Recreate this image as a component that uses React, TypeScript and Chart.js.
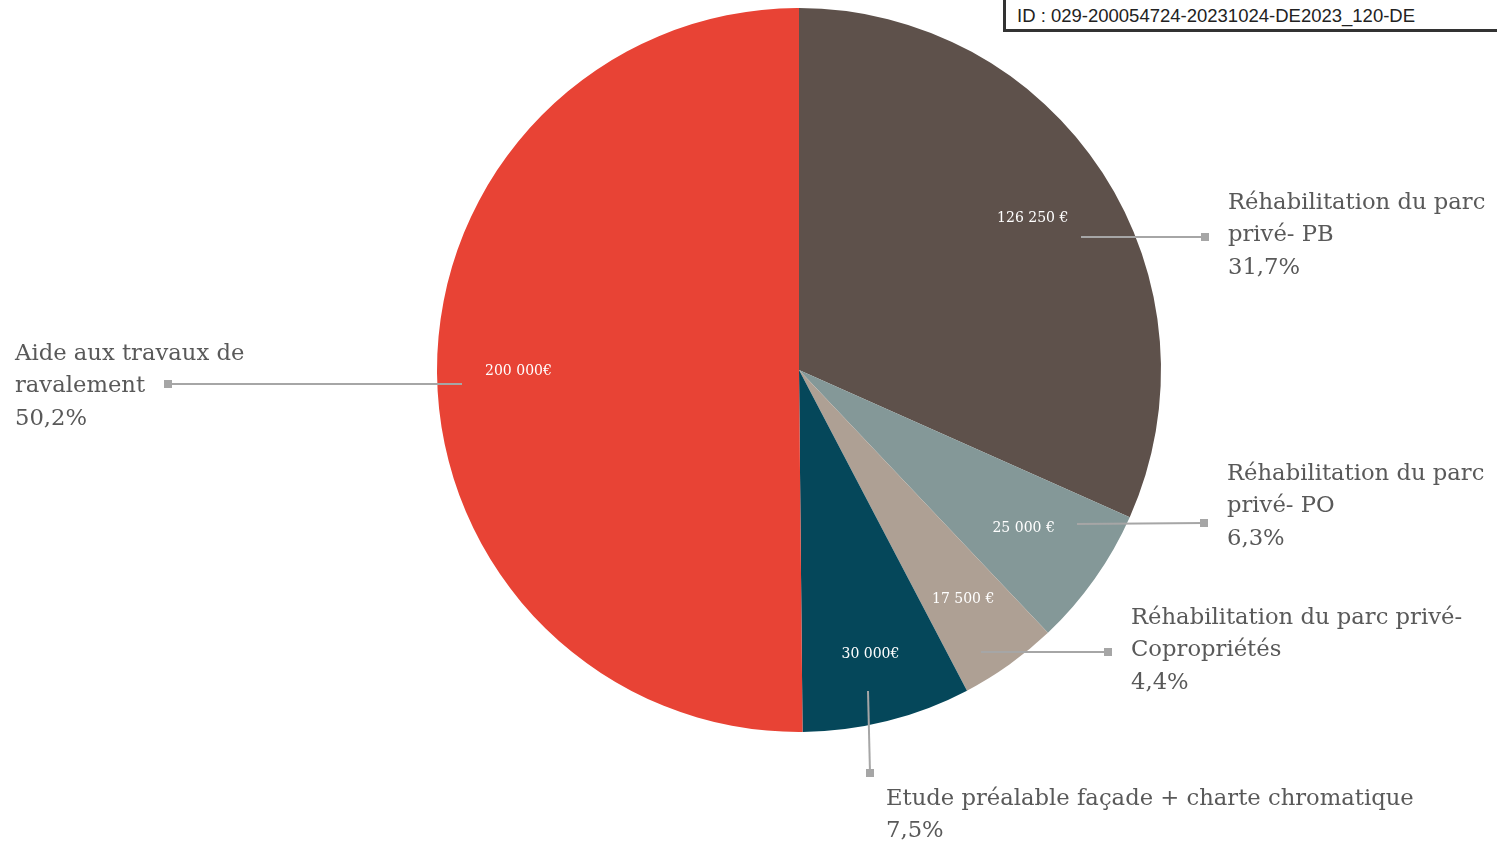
import React, { useEffect, useRef } from "react";
import { Chart, registerables } from "chart.js";

Chart.register(...registerables);

const categories = [
  "Réhabilitation du parc privé- PB",
  "Réhabilitation du parc privé- PO",
  "Réhabilitation du parc privé- Copropriétés",
  "Etude préalable façade + charte chromatique",
  "Aide aux travaux de ravalement",
];
const values = [126250, 25000, 17500, 30000, 200000];
const valueLabels = ["126 250 €", "25 000 €", "17 500 €", "30 000€", "200 000€"];
const percentLabels = ["31,7%", "6,3%", "4,4%", "7,5%", "50,2%"];
const categoryLines = [
  ["Réhabilitation du parc", "privé- PB"],
  ["Réhabilitation du parc", "privé- PO"],
  ["Réhabilitation du parc privé-", "Copropriétés"],
  ["Etude préalable façade + charte chromatique"],
  ["Aide aux travaux de", "ravalement"],
];
const colors = ["#5E514B", "#849898", "#AEA094", "#05475A", "#E84335"];

// value label distance from centre, as fraction of radius
const labelRadius = [0.77, 0.76, 0.78, 0.81, 0.775];

// callout layout (leader line start/end, text anchor)
const callouts = [
  { from: [1081, 237], to: [1205, 237], text: [1228, 203] },
  { from: [1077, 524], to: [1204, 523], text: [1227, 474] },
  { from: [981, 652], to: [1108, 652], text: [1131, 618] },
  { from: [868, 691], to: [870, 773], text: [886, 799] },
  { from: [462, 384], to: [168, 384], text: [15, 354] },
];

const SERIF = "'DejaVu Serif', 'Liberation Serif', serif";

const labelPlugin = {
  id: "pieLabels",
  afterDraw(chart: any) {
    const ctx = chart.ctx;
    const meta = chart.getDatasetMeta(0);
    ctx.save();
    callouts.forEach((c) => {
      ctx.strokeStyle = "#A6A6A6";
      ctx.lineWidth = 2;
      ctx.beginPath();
      ctx.moveTo(c.from[0], c.from[1]);
      ctx.lineTo(c.to[0], c.to[1]);
      ctx.stroke();
      ctx.fillStyle = "#A6A6A6";
      ctx.fillRect(c.to[0] - 4, c.to[1] - 4, 8, 8);
    });
    meta.data.forEach((arc: any, i: number) => {
      const p = arc.getProps(["x", "y", "startAngle", "endAngle", "outerRadius"], true);
      const mid = (p.startAngle + p.endAngle) / 2;
      const r = p.outerRadius * labelRadius[i];
      const x = p.x + Math.cos(mid) * r;
      const y = p.y + Math.sin(mid) * r;
      ctx.fillStyle = "#FFFFFF";
      ctx.font = `14px ${SERIF}`;
      ctx.textAlign = "center";
      ctx.textBaseline = "middle";
      ctx.fillText(valueLabels[i], x, y);
    });
    callouts.forEach((c, i) => {
      ctx.fillStyle = "#595959";
      ctx.font = `22.7px ${SERIF}`;
      ctx.textAlign = "left";
      ctx.textBaseline = "middle";
      const lines = [...categoryLines[i], percentLabels[i]];
      lines.forEach((ln, k) => {
        ctx.fillText(ln, c.text[0], c.text[1] + k * 32.5);
      });
    });
    ctx.restore();
  },
};

export default function App() {
  const ref = useRef<HTMLCanvasElement>(null);
  useEffect(() => {
    document.body.style.margin = "0";
    const chart = new Chart(ref.current!, {
      type: "pie",
      data: {
        labels: categories,
        datasets: [
          {
            data: values,
            backgroundColor: colors,
            borderWidth: 0,
          },
        ],
      },
      options: {
        responsive: false,
        animation: false,
        layout: { padding: { left: 437, right: 336, top: 8, bottom: 113 } },
        plugins: { legend: { display: false }, tooltip: { enabled: false } },
      },
      plugins: [labelPlugin],
    });
    return () => chart.destroy();
  }, []);
  return (
    <div style={{ position: "relative", width: 1497, height: 845, background: "#fff" }}>
      <canvas ref={ref} width={1497} height={845} style={{ display: "block" }} />
      <div
        style={{
          position: "absolute",
          left: 1003,
          top: -3,
          width: 494,
          height: 35,
          borderLeft: "3px solid #333",
          borderBottom: "3px solid #333",
          borderTop: "3px solid #333",
          background: "#fff",
          boxSizing: "border-box",
          fontFamily: "'Liberation Sans', Arial, sans-serif",
          fontSize: 18.5,
          color: "#222",
          paddingLeft: 11,
          lineHeight: "31px",
          whiteSpace: "nowrap",
          overflow: "hidden",
        }}
      >
        ID : 029-200054724-20231024-DE2023_120-DE
      </div>
    </div>
  );
}
